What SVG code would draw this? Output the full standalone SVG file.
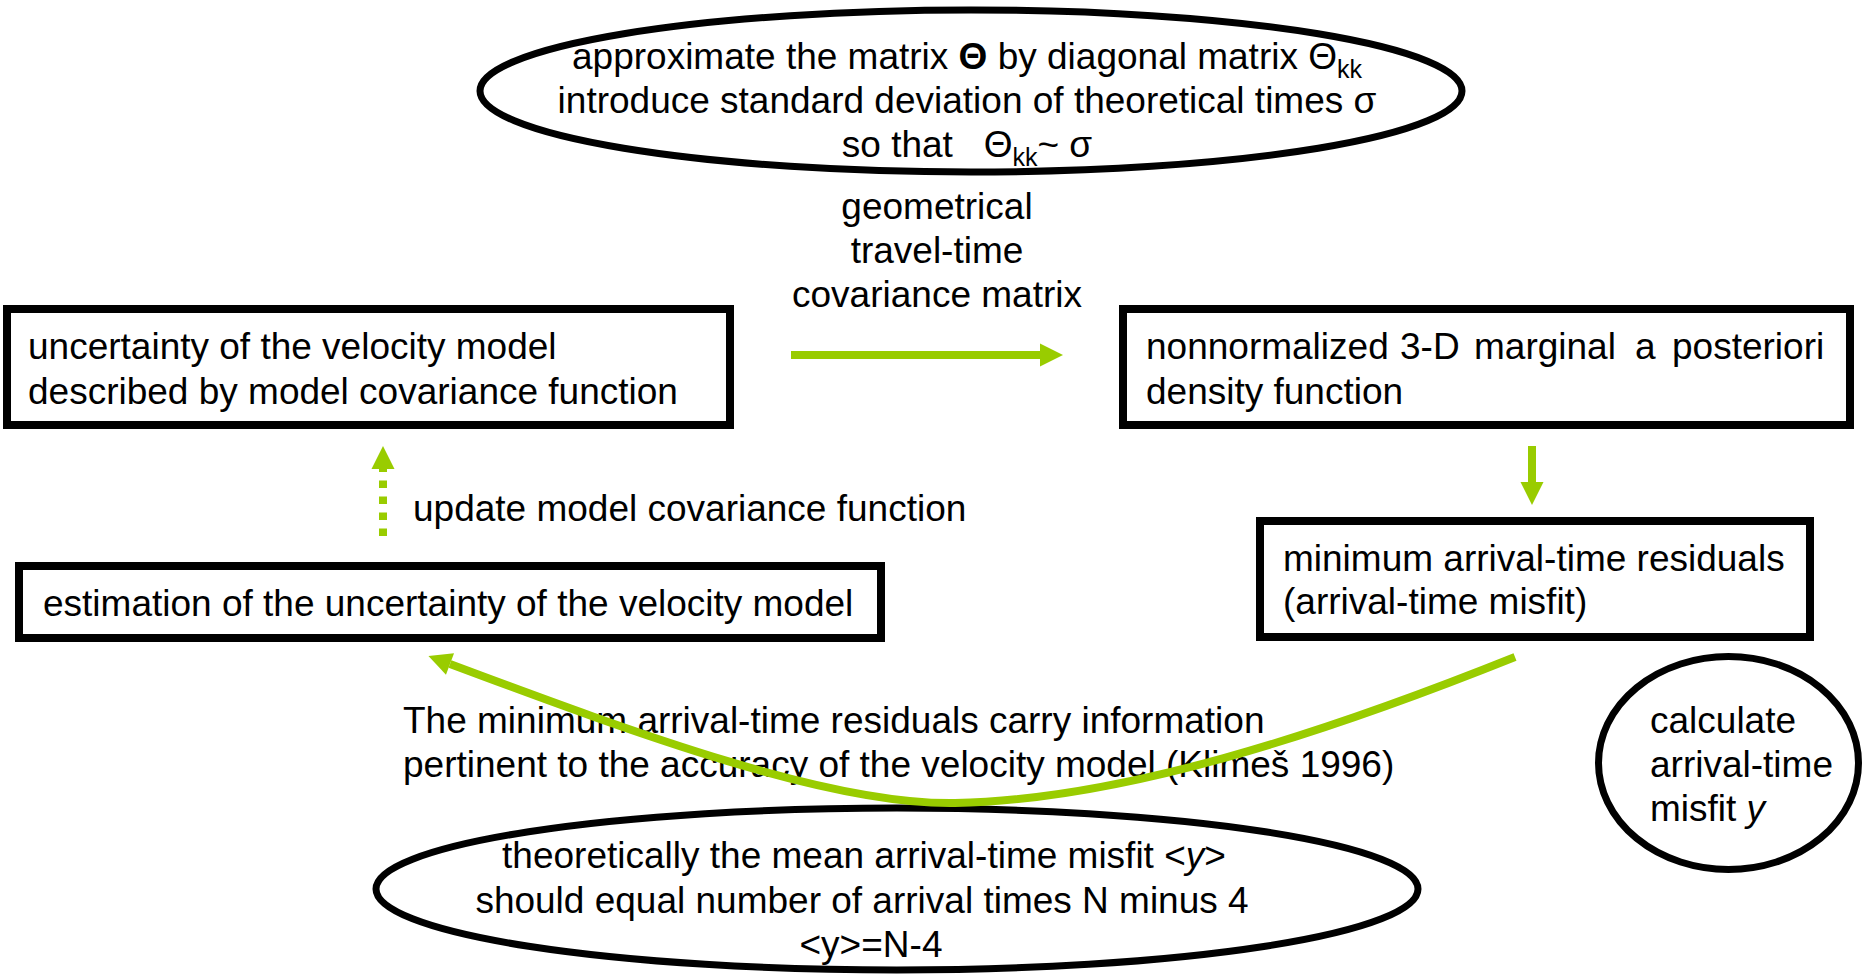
<svg xmlns="http://www.w3.org/2000/svg" width="1864" height="974" viewBox="0 0 1864 974">
<style>
text{font-family:"Liberation Sans",Arial,sans-serif;font-size:37px;fill:#000}
.box{fill:#fff;stroke:#000;stroke-width:8}
.ell{fill:#fff;stroke:#000;stroke-width:7}
.g{fill:none;stroke:#99CC00;stroke-width:8}
.sub{font-size:25px}
</style>
<defs>
<marker id="ah" markerUnits="userSpaceOnUse" markerWidth="24" markerHeight="24" refX="0" refY="11.5" orient="auto" overflow="visible">
<path d="M0,0 L23,11.5 L0,23 z" fill="#99CC00"/>
</marker>
</defs>
<rect width="1864" height="974" fill="#fff"/>

<g id="top-ellipse">
<ellipse class="ell" cx="971" cy="91" rx="491" ry="81"/>
<text x="967" y="69" text-anchor="middle">approximate the matrix <tspan font-weight="bold">Θ</tspan> by diagonal matrix Θ<tspan class="sub" dy="9">kk</tspan></text>
<text x="967" y="113" text-anchor="middle">introduce standard deviation of theoretical times σ</text>
<text x="967" y="157" text-anchor="middle" xml:space="preserve">so that   Θ<tspan class="sub" dy="9">kk</tspan><tspan dy="-9">~ σ</tspan></text>
</g>

<g id="label-geometrical">
<text x="937" y="219" text-anchor="middle">geometrical</text>
<text x="937" y="263" text-anchor="middle">travel-time</text>
<text x="937" y="307" text-anchor="middle">covariance matrix</text>
</g>

<g id="box-uncertainty">
<rect class="box" x="7" y="309" width="723" height="116"/>
<text x="28" y="359">uncertainty of the velocity model</text>
<text x="28" y="404">described by model covariance function</text>
</g>

<g id="box-nonnormalized">
<rect class="box" x="1123" y="309" width="727" height="116"/>
<text y="359"><tspan x="1146">nonnormalized</tspan><tspan x="1400">3-D</tspan><tspan x="1474">marginal</tspan><tspan x="1635">a</tspan><tspan x="1672">posteriori</tspan></text>
<text x="1146" y="404">density function</text>
</g>

<g id="box-residuals">
<rect class="box" x="1260" y="521" width="550" height="116"/>
<text x="1283" y="571">minimum arrival-time residuals</text>
<text x="1283" y="614">(arrival-time misfit)</text>
</g>

<g id="box-estimation">
<rect class="box" x="19" y="566" width="862" height="72"/>
<text x="43" y="616">estimation of the uncertainty of the velocity model</text>
</g>

<g id="label-update">
<text x="413" y="521">update model covariance function</text>
</g>

<g id="circle-calculate">
<ellipse class="ell" cx="1728.5" cy="763" rx="130" ry="106.5"/>
<text x="1650" y="733">calculate</text>
<text x="1650" y="777">arrival-time</text>
<text x="1650" y="821">misfit <tspan font-style="italic">y</tspan></text>
</g>

<g id="bottom-ellipse">
<ellipse class="ell" cx="897" cy="889" rx="521" ry="81"/>
<text x="864" y="868" text-anchor="middle">theoretically the mean arrival-time misfit &lt;<tspan font-style="italic">y</tspan>&gt;</text>
<text x="862" y="913" text-anchor="middle">should equal number of arrival times N minus 4</text>
<text x="871" y="957" text-anchor="middle">&lt;y&gt;=N-4</text>
</g>

<g id="label-klimes">
<text x="403" y="733">The minimum arrival-time residuals carry information</text>
<text x="403" y="777">pertinent to the accuracy of the velocity model (Klimeš 1996)</text>
</g>

<g id="connectors">
<line class="g" x1="791" y1="355" x2="1040" y2="355" marker-end="url(#ah)"/>
<line class="g" x1="1532" y1="446" x2="1532" y2="482" marker-end="url(#ah)"/>
<line class="g" x1="383" y1="536" x2="383" y2="469" stroke-dasharray="7.5 8.5" marker-end="url(#ah)"/>
<path class="g" stroke-width="7.5" d="M1515,657 C1320,735 1120,800 955,803 C830,805 640,735 450,664" marker-end="url(#ah)"/>
</g>
</svg>
